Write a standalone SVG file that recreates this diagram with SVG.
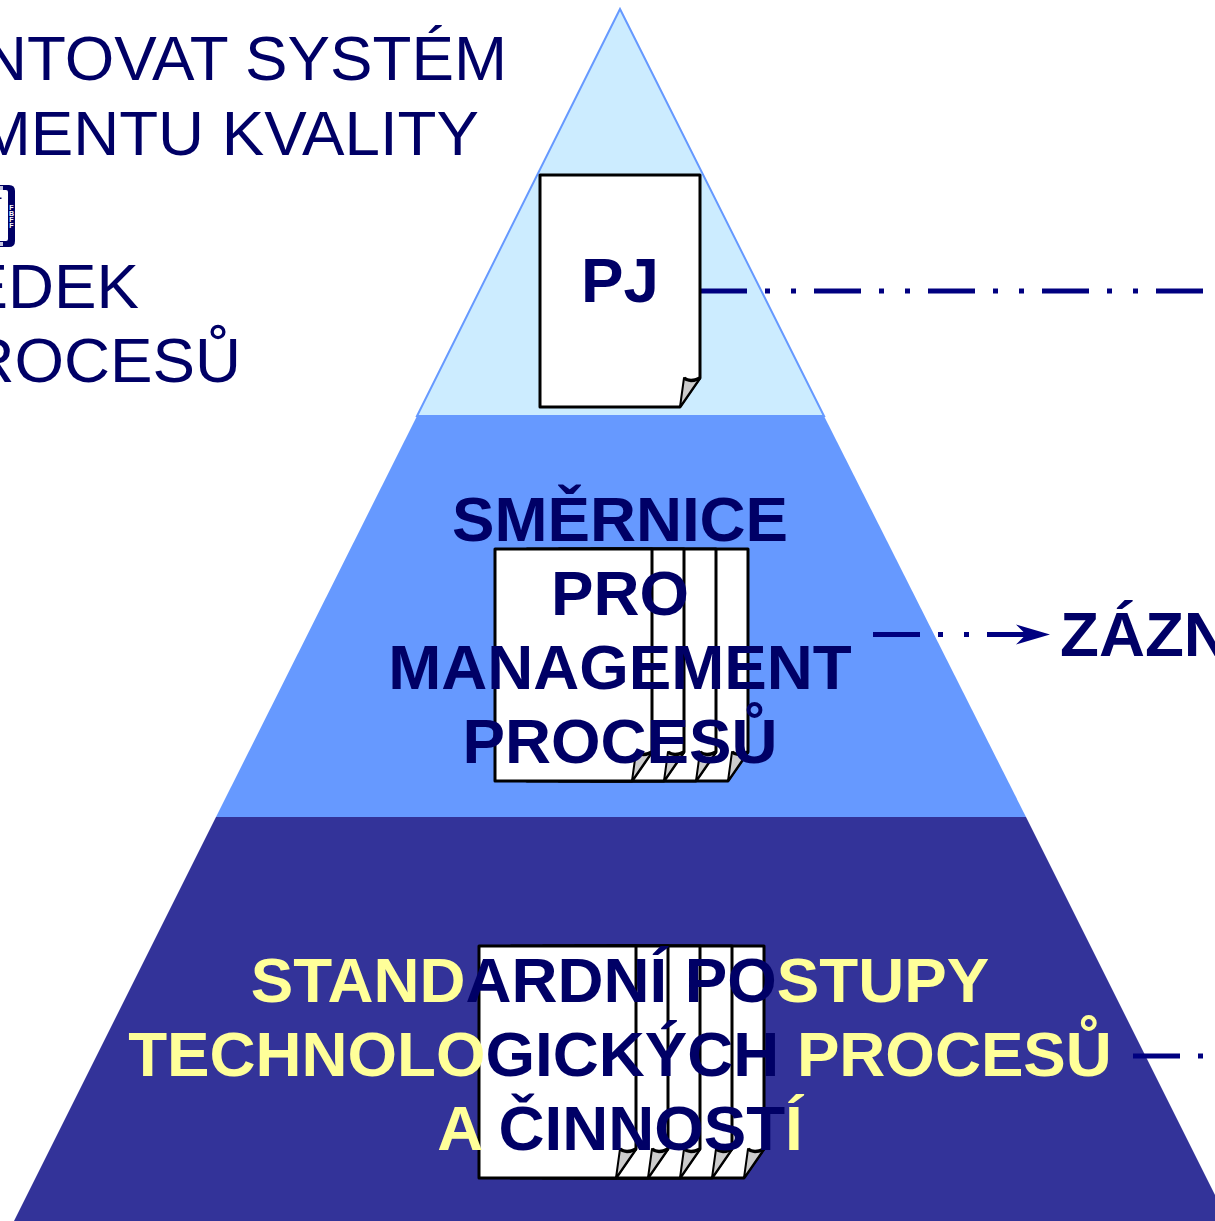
<svg xmlns="http://www.w3.org/2000/svg" width="1215" height="1221" viewBox="0 0 1215 1221">
<style>
text{font-family:"Liberation Sans",Arial,sans-serif;font-size:63.7px}
.b{font-weight:bold;text-anchor:middle;fill:#000066}
.r{fill:#000066;text-anchor:end}
.y{fill:#FFFF99}
.line{fill:none;stroke:#000080;stroke-width:5;stroke-dasharray:47 18 5 21 5 18}
.sheet{fill:#fff;stroke:#000;stroke-width:3;stroke-linejoin:round}
.fold{fill:#ccc;stroke:#000;stroke-width:2;stroke-linejoin:round}
.edge{fill:none;stroke:#000;stroke-width:3.500;stroke-linejoin:round}
text.logo{font-size:7px;font-weight:bold;fill:#fff;text-anchor:middle}
</style>
<defs>
<g id="page">
<path class="sheet" d="M0 0H157V203L137 232H0Z"/>
<path class="fold" d="M137 232L141 203Q147 208 157 203Z"/>
<path class="edge" d="M141 203Q147 208 157 203"/>
</g>
<marker id="arrow" markerUnits="userSpaceOnUse" markerWidth="36" markerHeight="24" refX="34" refY="12" orient="auto"><path d="M0 2L34 12L0 22L10 12Z" fill="#000080"/></marker>
</defs>
<rect width="1215" height="1221" fill="#fff"/>
<g id="tier-top"><path d="M620 9L824 416H417Z" fill="#CCECFF" stroke="#6699FF" stroke-width="2"/></g>
<g id="tier-middle"><path d="M417 416H824L1026 817H216Z" fill="#6699FF"/></g>
<g id="tier-bottom"><path d="M216 817H1026L1228 1221H14Z" fill="#333399"/></g>
<g id="heading">
<text class="r" x="507" y="80">NTOVAT SYSTÉM</text>
<text class="r" x="479" y="154.500">MENTU KVALITY</text>
<text class="r" x="139" y="308.300">EDEK</text>
<text class="r" x="241" y="382">ROCESŮ</text>
</g>
<g id="logo">
<path d="M-6 185H9Q15 185 15 191V241Q15 247 9 247H-6V241H6Q8 241 8 239V192Q8 190 6 190H-6Z" fill="#000066"/>
<rect x="0" y="186" width="3" height="4" fill="#C8C8E0"/>
<rect x="0" y="242" width="3" height="4" fill="#C8C8E0"/>
<rect x="0" y="197.500" width="1.500" height="1.500" fill="#000066"/>
<text class="logo" x="11.500" y="209.500">F</text>
<text class="logo" x="11.500" y="215.500">B</text>
<text class="logo" x="11.500" y="221.500">F</text>
<text class="logo" x="11.500" y="227.500">F</text>
</g>
<g id="connectors">
<path class="line" d="M700 291H1215"/>
<path class="line" d="M873 634.500H1050" marker-end="url(#arrow)"/>
<path class="line" d="M1133 1056H1215"/>
</g>
<g id="doc-pj">
<path class="sheet" d="M540 175H700V378L680 407H540Z"/>
<path class="fold" d="M680 407L684 378Q690 383 700 378Z"/>
<path class="edge" d="M684 378Q690 383 700 378"/>
<text class="b" x="620" y="301.700">PJ</text>
</g>
<g id="doc-smernice">
<use href="#page" x="591" y="549"/>
<use href="#page" x="559" y="549"/>
<use href="#page" x="527" y="549"/>
<use href="#page" x="495" y="549"/>
<text class="b" x="620" y="541">SMĚRNICE</text>
<text class="b" x="620" y="615">PRO</text>
<text class="b" x="620" y="689">MANAGEMENT</text>
<text class="b" x="620" y="763">PROCESŮ</text>
</g>
<g id="doc-standardni">
<use href="#page" x="607" y="946"/>
<use href="#page" x="575" y="946"/>
<use href="#page" x="543" y="946"/>
<use href="#page" x="511" y="946"/>
<use href="#page" x="479" y="946"/>
<text class="b" x="620" y="1002"><tspan class="y">STAND</tspan>ARDNÍ PO<tspan class="y">STUPY</tspan></text>
<text class="b" x="620" y="1076"><tspan class="y">TECHNOLO</tspan>GICKÝCH<tspan class="y"> PROCESŮ</tspan></text>
<text class="b" x="620" y="1150"><tspan class="y">A </tspan>ČINNOST<tspan class="y">Í</tspan></text>
</g>
<g id="zaznamy"><text x="1060" y="656" font-weight="bold" fill="#000066">ZÁZN</text></g>
</svg>
